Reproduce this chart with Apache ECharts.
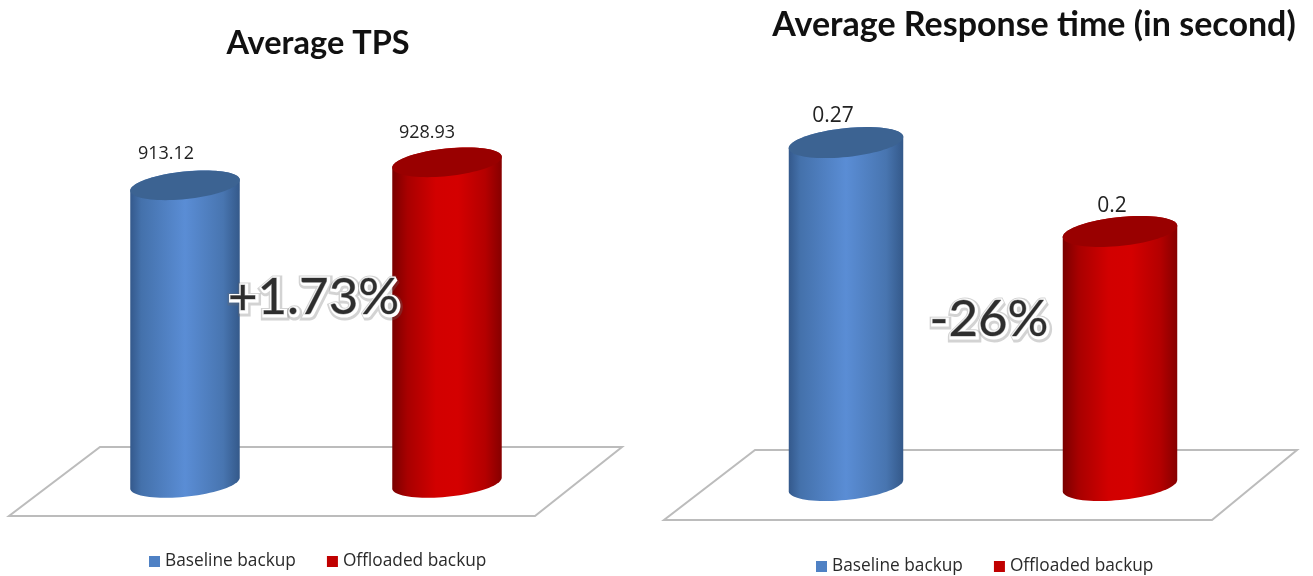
<!DOCTYPE html>
<html><head><meta charset="utf-8">
<style>html,body{margin:0;padding:0;background:#fff}#c{width:1313px;height:576px}</style>
<script src="https://cdn.jsdelivr.net/npm/echarts@6/dist/echarts.min.js"></script>
</head><body><div id="c"></div>
<script>
var seriesNames = ['Baseline backup', 'Offloaded backup'];
var tpsValues = [913.12, 928.93];
var responseValues = [0.27, 0.2];
var responseLabels = ['0.27', '0.2'];
var tpsLabels = ['913.12', '928.93'];
var titles = ['Average TPS', 'Average Response time (in second)'];
var changes = ['+1.73%', '-26%'];

var palettes = [
  {legend:'#4f81c4', top:'#3c6392', stops:[[0,'#34598c'],[0.1,'#4471ab'],[0.5,'#5a8dd5'],[0.85,'#4875b0'],[1,'#34598a']]},
  {legend:'#c00000', top:'#990000', stops:[[0,'#7a0000'],[0.14,'#a80000'],[0.4,'#d20000'],[0.6,'#d40000'],[0.85,'#b40000'],[1,'#860000']]}
];
var THETA = -6 * Math.PI / 180;
function ellipsePts(cx, cy, a, b, t0, t1, n){
  var p = [];
  for (var i = 0; i <= n; i++){
    var t = t0 + (t1 - t0) * i / n;
    p.push([cx + a*Math.cos(t)*Math.cos(THETA) - b*Math.sin(t)*Math.sin(THETA),
            cy + a*Math.cos(t)*Math.sin(THETA) + b*Math.sin(t)*Math.cos(THETA)]);
  }
  return p;
}
function cylinder(palette, axisMin, offset, font, labels){
  return function(params, api){
    var idx = api.value(0), val = api.value(1);
    var top = api.coord([idx, val]), base = api.coord([idx, axisMin]);
    var a = api.size([1, 0])[0] * 0.21, b = a * 0.25;
    var t0 = Math.atan2(-b*Math.sin(THETA), a*Math.cos(THETA));
    var upper = ellipsePts(top[0], top[1], a, b, t0 + Math.PI, t0 + 2*Math.PI, 40);
    var lower = ellipsePts(base[0], base[1], a, b, t0, t0 + Math.PI, 40);
    var cap = ellipsePts(top[0], top[1], a, b, 0, 2*Math.PI, 80);
    var off = offset[idx];
    return {type:'group', children:[
      {type:'polygon', shape:{points: upper.concat(lower)},
       style:{fill:new echarts.graphic.LinearGradient(0,0,1,0,palette.stops.map(function(s){return {offset:s[0],color:s[1]};}))}},
      {type:'polygon', shape:{points: cap}, style:{fill:palette.top}},
      {type:'text', x: top[0] + off[0], y: top[1] + off[1],
       style:{text: labels[idx], font: font, fill:'#222', align:'center', verticalAlign:'middle'}}
    ]};
  };
}
function makeSeries(values, gridIndex, axisMin, offset, font, labels){
  return values.map(function(v, i){
    return {type:'custom', name:seriesNames[i], xAxisIndex:gridIndex, yAxisIndex:gridIndex, coordinateSystem:'cartesian2d',
      itemStyle:{color:palettes[i].legend}, clip:false, silent:true,
      renderItem:cylinder(palettes[i], axisMin, offset, font, labels),
      data:[[i, v]], encode:{x:0, y:1}};
  });
}
function floor(points){
  return {type:'polygon', z:-1, shape:{points:points}, style:{fill:'#fff', stroke:'#bcbcbc', lineWidth:2}};
}
function big(text, x, y){
  var base = {text:text, font:'400 51px Lato', align:'center', verticalAlign:'middle', lineJoin:'round'};
  function layer(z, dx, style){
    return {type:'text', z:z, x:x+dx, y:y+dx, style:Object.assign({}, base, style)};
  }
  return [
    layer(100, 1.5, {fill:'rgba(110,110,110,0.3)', stroke:'rgba(110,110,110,0.3)', lineWidth:9}),
    layer(101, 1, {fill:'#fff', stroke:'#fff', lineWidth:5}),
    layer(102, 0, {fill:'#2e2e2e', stroke:'rgba(150,150,150,0.75)', lineWidth:1})
  ];
}
var chart = echarts.init(document.getElementById('c'), null, {renderer:'canvas'});
var legendStyle = {fontFamily:'Open Sans', fontSize:17.3, color:'#2a2a2a'};
chart.setOption({
  animation:false, backgroundColor:'#fff',
  title:[
    {text:titles[0], left:313, top:39, textAlign:'center', textVerticalAlign:'middle', textStyle:{fontFamily:'Lato', fontWeight:'bold', fontSize:32.5, color:'#111'}},
    {text:titles[1], left:1029, top:20, textAlign:'center', textVerticalAlign:'middle', textStyle:{fontFamily:'Lato', fontWeight:'bold', fontSize:34, color:'#111'}}
  ],
  legend:[
    {data:seriesNames, left:144, top:548, icon:'rect', itemWidth:11, itemHeight:11, itemGap:31, textStyle:legendStyle, selectedMode:false},
    {data:seriesNames, left:811, top:553, icon:'rect', itemWidth:11, itemHeight:11, itemGap:31, textStyle:legendStyle, selectedMode:false}
  ],
  grid:[
    {left:54, width:524, top:106, height:377},
    {left:709, width:548, top:104.5, height:381}
  ],
  xAxis:[
    {type:'category', gridIndex:0, data:seriesNames, show:false},
    {type:'category', gridIndex:1, data:seriesNames, show:false}
  ],
  yAxis:[
    {type:'value', gridIndex:0, min:708.6, max:967.6, show:false, splitLine:{show:false}},
    {type:'value', gridIndex:1, min:0, max:0.3, show:false, splitLine:{show:false}}
  ],
  graphic:[
    floor([[100,447],[622,447],[535,516],[9,516]]),
    floor([[755,450],[1297,450],[1212,520],[664,520]])
  ].concat(big(changes[0], 313.5, 298), big(changes[1], 989, 320)),
  series: makeSeries(tpsValues, 0, 708.6, [[-19,-31],[-20,-29.5]], '18px "Open Sans"', tpsLabels)
    .concat(makeSeries(responseValues, 1, 0, [[-13,-26.5],[-8,-25.5]], '21px "Open Sans"', responseLabels))
});
</script></body></html>
